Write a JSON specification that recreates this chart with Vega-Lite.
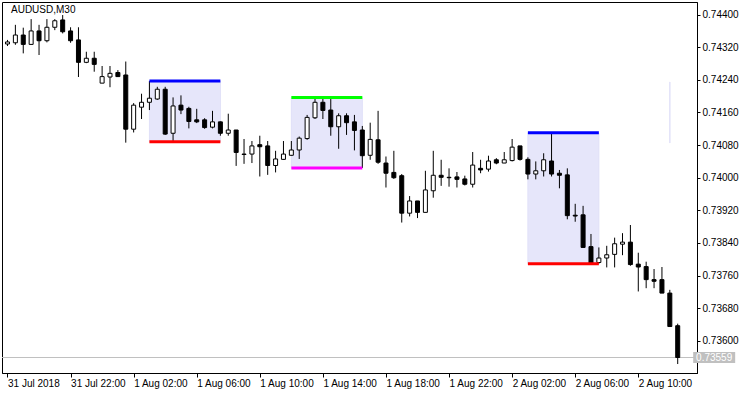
{
  "$schema": "https://vega.github.io/schema/vega-lite/v6.json",
  "width": 695,
  "height": 371,
  "autosize": {"type": "none"},
  "padding": {"left": 2, "top": 2, "right": 53, "bottom": 21},
  "background": "white",
  "config": {
    "view": {"stroke": "black", "strokeWidth": 1},
    "axis": {"grid": false, "domainColor": "black", "tickColor": "black", "labelColor": "black", "labelFont": "Liberation Sans", "labelFontSize": 10, "title": null, "labelOverlap": false, "labelSeparation": 0}
  },
  "datasets": {
    "candles": [
      {"t": "2018-07-31T18:00:00Z", "o": 0.74328, "h": 0.74338, "l": 0.74323, "c": 0.74333},
      {"t": "2018-07-31T18:30:00Z", "o": 0.74331, "h": 0.74375, "l": 0.74326, "c": 0.74350},
      {"t": "2018-07-31T19:00:00Z", "o": 0.74350, "h": 0.74368, "l": 0.74305, "c": 0.74327},
      {"t": "2018-07-31T19:30:00Z", "o": 0.74327, "h": 0.74389, "l": 0.74326, "c": 0.74360},
      {"t": "2018-07-31T20:00:00Z", "o": 0.74360, "h": 0.74375, "l": 0.74301, "c": 0.74336},
      {"t": "2018-07-31T20:30:00Z", "o": 0.74336, "h": 0.74389, "l": 0.74332, "c": 0.74369},
      {"t": "2018-07-31T21:00:00Z", "o": 0.74369, "h": 0.74389, "l": 0.74362, "c": 0.74385},
      {"t": "2018-07-31T21:30:00Z", "o": 0.74387, "h": 0.74399, "l": 0.74354, "c": 0.74358},
      {"t": "2018-07-31T22:00:00Z", "o": 0.74360, "h": 0.74369, "l": 0.74331, "c": 0.74336},
      {"t": "2018-07-31T22:30:00Z", "o": 0.74338, "h": 0.74369, "l": 0.74247, "c": 0.74283},
      {"t": "2018-07-31T23:00:00Z", "o": 0.74283, "h": 0.74309, "l": 0.74281, "c": 0.74293},
      {"t": "2018-07-31T23:30:00Z", "o": 0.74293, "h": 0.74309, "l": 0.74260, "c": 0.74278},
      {"t": "2018-08-01T00:00:00Z", "o": 0.74232, "h": 0.74274, "l": 0.74232, "c": 0.74248},
      {"t": "2018-08-01T00:30:00Z", "o": 0.74247, "h": 0.74274, "l": 0.74222, "c": 0.74256},
      {"t": "2018-08-01T01:00:00Z", "o": 0.74258, "h": 0.74264, "l": 0.74247, "c": 0.74248},
      {"t": "2018-08-01T01:30:00Z", "o": 0.74252, "h": 0.74285, "l": 0.74086, "c": 0.74119},
      {"t": "2018-08-01T02:00:00Z", "o": 0.74119, "h": 0.74183, "l": 0.74111, "c": 0.74178},
      {"t": "2018-08-01T02:30:00Z", "o": 0.74173, "h": 0.74206, "l": 0.74144, "c": 0.74185},
      {"t": "2018-08-01T03:00:00Z", "o": 0.74185, "h": 0.74237, "l": 0.74166, "c": 0.74195},
      {"t": "2018-08-01T03:30:00Z", "o": 0.74193, "h": 0.74223, "l": 0.74191, "c": 0.74217},
      {"t": "2018-08-01T04:00:00Z", "o": 0.74217, "h": 0.74223, "l": 0.74105, "c": 0.74107},
      {"t": "2018-08-01T04:30:00Z", "o": 0.74109, "h": 0.74197, "l": 0.74088, "c": 0.74176},
      {"t": "2018-08-01T05:00:00Z", "o": 0.74178, "h": 0.74202, "l": 0.74156, "c": 0.74166},
      {"t": "2018-08-01T05:30:00Z", "o": 0.74170, "h": 0.74174, "l": 0.74121, "c": 0.74138},
      {"t": "2018-08-01T06:00:00Z", "o": 0.74142, "h": 0.74169, "l": 0.74134, "c": 0.74137},
      {"t": "2018-08-01T06:30:00Z", "o": 0.74142, "h": 0.74146, "l": 0.74120, "c": 0.74123},
      {"t": "2018-08-01T07:00:00Z", "o": 0.74124, "h": 0.74164, "l": 0.74121, "c": 0.74137},
      {"t": "2018-08-01T07:30:00Z", "o": 0.74137, "h": 0.74138, "l": 0.74103, "c": 0.74109},
      {"t": "2018-08-01T08:00:00Z", "o": 0.74109, "h": 0.74157, "l": 0.74103, "c": 0.74117},
      {"t": "2018-08-01T08:30:00Z", "o": 0.74117, "h": 0.74117, "l": 0.74029, "c": 0.74062},
      {"t": "2018-08-01T09:00:00Z", "o": 0.74058, "h": 0.74095, "l": 0.74034, "c": 0.74057},
      {"t": "2018-08-01T09:30:00Z", "o": 0.74058, "h": 0.74090, "l": 0.74036, "c": 0.74078},
      {"t": "2018-08-01T10:00:00Z", "o": 0.74081, "h": 0.74103, "l": 0.74003, "c": 0.74076},
      {"t": "2018-08-01T10:30:00Z", "o": 0.74078, "h": 0.74090, "l": 0.74007, "c": 0.74030},
      {"t": "2018-08-01T11:00:00Z", "o": 0.74030, "h": 0.74066, "l": 0.74013, "c": 0.74046},
      {"t": "2018-08-01T11:30:00Z", "o": 0.74045, "h": 0.74090, "l": 0.74044, "c": 0.74058},
      {"t": "2018-08-01T12:00:00Z", "o": 0.74055, "h": 0.74090, "l": 0.74054, "c": 0.74068},
      {"t": "2018-08-01T12:30:00Z", "o": 0.74068, "h": 0.74101, "l": 0.74046, "c": 0.74097},
      {"t": "2018-08-01T13:00:00Z", "o": 0.74096, "h": 0.74154, "l": 0.74093, "c": 0.74148},
      {"t": "2018-08-01T13:30:00Z", "o": 0.74147, "h": 0.74197, "l": 0.74144, "c": 0.74185},
      {"t": "2018-08-01T14:00:00Z", "o": 0.74185, "h": 0.74193, "l": 0.74144, "c": 0.74165},
      {"t": "2018-08-01T14:30:00Z", "o": 0.74166, "h": 0.74193, "l": 0.74103, "c": 0.74125},
      {"t": "2018-08-01T15:00:00Z", "o": 0.74125, "h": 0.74158, "l": 0.74071, "c": 0.74152},
      {"t": "2018-08-01T15:30:00Z", "o": 0.74152, "h": 0.74158, "l": 0.74105, "c": 0.74135},
      {"t": "2018-08-01T16:00:00Z", "o": 0.74137, "h": 0.74154, "l": 0.74067, "c": 0.74116},
      {"t": "2018-08-01T16:30:00Z", "o": 0.74117, "h": 0.74127, "l": 0.74024, "c": 0.74054},
      {"t": "2018-08-01T17:00:00Z", "o": 0.74055, "h": 0.74135, "l": 0.74044, "c": 0.74094},
      {"t": "2018-08-01T17:30:00Z", "o": 0.74093, "h": 0.74164, "l": 0.74034, "c": 0.74038},
      {"t": "2018-08-01T18:00:00Z", "o": 0.74036, "h": 0.74052, "l": 0.73976, "c": 0.74011},
      {"t": "2018-08-01T18:30:00Z", "o": 0.74013, "h": 0.74066, "l": 0.73997, "c": 0.74000},
      {"t": "2018-08-01T19:00:00Z", "o": 0.74005, "h": 0.74009, "l": 0.73890, "c": 0.73913},
      {"t": "2018-08-01T19:30:00Z", "o": 0.73913, "h": 0.73955, "l": 0.73905, "c": 0.73943},
      {"t": "2018-08-01T20:00:00Z", "o": 0.73943, "h": 0.73943, "l": 0.73901, "c": 0.73915},
      {"t": "2018-08-01T20:30:00Z", "o": 0.73915, "h": 0.74017, "l": 0.73915, "c": 0.73970},
      {"t": "2018-08-01T21:00:00Z", "o": 0.73968, "h": 0.74066, "l": 0.73951, "c": 0.74006},
      {"t": "2018-08-01T21:30:00Z", "o": 0.74006, "h": 0.74044, "l": 0.73980, "c": 0.74001},
      {"t": "2018-08-01T22:00:00Z", "o": 0.74001, "h": 0.74023, "l": 0.73978, "c": 0.74000},
      {"t": "2018-08-01T22:30:00Z", "o": 0.74002, "h": 0.74014, "l": 0.73976, "c": 0.73996},
      {"t": "2018-08-01T23:00:00Z", "o": 0.73997, "h": 0.74005, "l": 0.73981, "c": 0.73984},
      {"t": "2018-08-01T23:30:00Z", "o": 0.73984, "h": 0.74063, "l": 0.73976, "c": 0.74031},
      {"t": "2018-08-02T00:00:00Z", "o": 0.74023, "h": 0.74044, "l": 0.74011, "c": 0.74019},
      {"t": "2018-08-02T00:30:00Z", "o": 0.74021, "h": 0.74054, "l": 0.74015, "c": 0.74041},
      {"t": "2018-08-02T01:00:00Z", "o": 0.74044, "h": 0.74048, "l": 0.74033, "c": 0.74036},
      {"t": "2018-08-02T01:30:00Z", "o": 0.74036, "h": 0.74063, "l": 0.74036, "c": 0.74044},
      {"t": "2018-08-02T02:00:00Z", "o": 0.74042, "h": 0.74095, "l": 0.74040, "c": 0.74075},
      {"t": "2018-08-02T02:30:00Z", "o": 0.74078, "h": 0.74078, "l": 0.74042, "c": 0.74045},
      {"t": "2018-08-02T03:00:00Z", "o": 0.74045, "h": 0.74050, "l": 0.73996, "c": 0.74009},
      {"t": "2018-08-02T03:30:00Z", "o": 0.74009, "h": 0.74040, "l": 0.73996, "c": 0.74017},
      {"t": "2018-08-02T04:00:00Z", "o": 0.74017, "h": 0.74060, "l": 0.74003, "c": 0.74044},
      {"t": "2018-08-02T04:30:00Z", "o": 0.74041, "h": 0.74110, "l": 0.74003, "c": 0.74009},
      {"t": "2018-08-02T05:00:00Z", "o": 0.74011, "h": 0.74019, "l": 0.73974, "c": 0.74006},
      {"t": "2018-08-02T05:30:00Z", "o": 0.74007, "h": 0.74023, "l": 0.73898, "c": 0.73907},
      {"t": "2018-08-02T06:00:00Z", "o": 0.73908, "h": 0.73936, "l": 0.73892, "c": 0.73906},
      {"t": "2018-08-02T06:30:00Z", "o": 0.73909, "h": 0.73931, "l": 0.73829, "c": 0.73829},
      {"t": "2018-08-02T07:00:00Z", "o": 0.73831, "h": 0.73862, "l": 0.73789, "c": 0.73790},
      {"t": "2018-08-02T07:30:00Z", "o": 0.73792, "h": 0.73829, "l": 0.73789, "c": 0.73803},
      {"t": "2018-08-02T08:00:00Z", "o": 0.73803, "h": 0.73833, "l": 0.73780, "c": 0.73811},
      {"t": "2018-08-02T08:30:00Z", "o": 0.73812, "h": 0.73853, "l": 0.73780, "c": 0.73838},
      {"t": "2018-08-02T09:00:00Z", "o": 0.73837, "h": 0.73864, "l": 0.73810, "c": 0.73842},
      {"t": "2018-08-02T09:30:00Z", "o": 0.73842, "h": 0.73884, "l": 0.73784, "c": 0.73787},
      {"t": "2018-08-02T10:00:00Z", "o": 0.73788, "h": 0.73816, "l": 0.73721, "c": 0.73781},
      {"t": "2018-08-02T10:30:00Z", "o": 0.73782, "h": 0.73794, "l": 0.73729, "c": 0.73750},
      {"t": "2018-08-02T11:00:00Z", "o": 0.73750, "h": 0.73776, "l": 0.73729, "c": 0.73746},
      {"t": "2018-08-02T11:30:00Z", "o": 0.73750, "h": 0.73781, "l": 0.73717, "c": 0.73717},
      {"t": "2018-08-02T12:00:00Z", "o": 0.73717, "h": 0.73725, "l": 0.73634, "c": 0.73635},
      {"t": "2018-08-02T12:30:00Z", "o": 0.73637, "h": 0.73642, "l": 0.73543, "c": 0.73559}
    ],
    "boxes": [
      {"box": "A", "t1": "2018-08-01T03:00:00Z", "t2": "2018-08-01T07:30:00Z", "hi": 0.74237, "lo": 0.74088},
      {"box": "B", "t1": "2018-08-01T12:00:00Z", "t2": "2018-08-01T16:30:00Z", "hi": 0.74197, "lo": 0.74024},
      {"box": "C", "t1": "2018-08-02T03:00:00Z", "t2": "2018-08-02T07:30:00Z", "hi": 0.74110, "lo": 0.73789},
      {"box": "D", "t1": "2018-08-02T12:00:00Z", "t2": "2018-08-02T12:00:00Z", "hi": 0.74235, "lo": 0.74085}
    ],
    "last": [
      {"price": 0.73559, "label": "0.73559"}
    ],
    "info": [
      {"name": "AUDUSD,M30"}
    ]
  },
  "layer": [
    {
      "data": {"name": "boxes"},
      "mark": {"type": "rect", "fill": "#E6E6FA", "stroke": "#E0E0F8", "strokeWidth": 1},
      "encoding": {
        "x": {"field": "t1", "type": "temporal",
          "scale": {"type": "utc", "domain": [
            {"year": 2018, "month": 7, "date": 31, "hours": 17, "minutes": 58, "seconds": 7, "milliseconds": 500, "utc": true},
            {"year": 2018, "month": 8, "date": 2, "hours": 13, "minutes": 24, "seconds": 22, "milliseconds": 500, "utc": true}
          ]},
          "axis": {
            "orient": "bottom",
            "tickCount": 40,
            "values": [
              {"year": 2018, "month": 7, "date": 31, "hours": 18, "utc": true},
              {"year": 2018, "month": 7, "date": 31, "hours": 22, "utc": true},
              {"year": 2018, "month": 8, "date": 1, "hours": 2, "utc": true},
              {"year": 2018, "month": 8, "date": 1, "hours": 6, "utc": true},
              {"year": 2018, "month": 8, "date": 1, "hours": 10, "utc": true},
              {"year": 2018, "month": 8, "date": 1, "hours": 14, "utc": true},
              {"year": 2018, "month": 8, "date": 1, "hours": 18, "utc": true},
              {"year": 2018, "month": 8, "date": 1, "hours": 22, "utc": true},
              {"year": 2018, "month": 8, "date": 2, "hours": 2, "utc": true},
              {"year": 2018, "month": 8, "date": 2, "hours": 6, "utc": true},
              {"year": 2018, "month": 8, "date": 2, "hours": 10, "utc": true}
            ],
            "labelExpr": "(utcdate(datum.value) == 31 && utchours(datum.value) == 18) ? '31 Jul 2018' : utcFormat(datum.value, '%-d %b %H:%M')",
            "labelAlign": "left", "labelFlush": false, "labelOverlap": false, "labelBound": false,
            "tickSize": 4, "labelPadding": 1, "labelBaseline": "top"
          }
        },
        "x2": {"field": "t2"},
        "y": {"field": "hi", "type": "quantitative",
          "scale": {"domain": [0.73521, 0.74431], "nice": false, "zero": false},
          "axis": {
            "orient": "right",
            "tickCount": 40,
            "values": [0.736, 0.7368, 0.7376, 0.7384, 0.7392, 0.74, 0.7408, 0.7416, 0.7424, 0.7432, 0.744],
            "format": ".5f", "tickSize": 3, "labelPadding": 2, "labelFlush": false, "labelOverlap": false, "labelBound": false, "labelSeparation": 0
          }
        },
        "y2": {"field": "lo"}
      }
    },
    {
      "data": {"name": "last"},
      "mark": {"type": "rule", "color": "#c0c0c0", "strokeWidth": 1},
      "encoding": {"y": {"field": "price", "type": "quantitative"}}
    },
    {
      "data": {"name": "candles"},
      "mark": {"type": "rule", "color": "black", "strokeWidth": 1},
      "encoding": {
        "x": {"field": "t", "type": "temporal"},
        "y": {"field": "l", "type": "quantitative"},
        "y2": {"field": "h"}
      }
    },
    {
      "data": {"name": "candles"},
      "mark": {"type": "bar", "width": 4, "stroke": "black", "strokeWidth": 1},
      "encoding": {
        "x": {"field": "t", "type": "temporal"},
        "y": {"field": "o", "type": "quantitative"},
        "y2": {"field": "c"},
        "fill": {"condition": {"test": "datum.c > datum.o", "value": "white"}, "value": "black"}
      }
    },
    {
      "data": {"name": "boxes"},
      "transform": [{"filter": "datum.box != 'D'"}],
      "mark": {"type": "rule", "strokeWidth": 3, "strokeCap": "butt"},
      "encoding": {
        "x": {"field": "t1", "type": "temporal"},
        "x2": {"field": "t2"},
        "y": {"field": "hi", "type": "quantitative"},
        "color": {"condition": {"test": "datum.box == 'B'", "value": "#00ff00"}, "value": "#0000ff"}
      }
    },
    {
      "data": {"name": "boxes"},
      "transform": [{"filter": "datum.box != 'D'"}],
      "mark": {"type": "rule", "strokeWidth": 3, "strokeCap": "butt"},
      "encoding": {
        "x": {"field": "t1", "type": "temporal"},
        "x2": {"field": "t2"},
        "y": {"field": "lo", "type": "quantitative"},
        "color": {"condition": {"test": "datum.box == 'B'", "value": "#ff00ff"}, "value": "#ff0000"}
      }
    },
    {
      "data": {"name": "last"},
      "mark": {"type": "point", "shape": "M-1,-0.26H1V0.26H-1Z", "size": 1764, "filled": true, "fill": "#c0c0c0", "opacity": 1, "strokeWidth": 0},
      "encoding": {
        "x": {"datum": {"year": 2018, "month": 8, "date": 2, "hours": 14, "minutes": 48, "seconds": 45, "utc": true}, "type": "temporal"},
        "y": {"field": "price", "type": "quantitative"}
      }
    },
    {
      "data": {"name": "last"},
      "mark": {"type": "text", "color": "white", "font": "Liberation Sans", "fontSize": 10, "align": "center", "baseline": "middle"},
      "encoding": {
        "x": {"datum": {"year": 2018, "month": 8, "date": 2, "hours": 14, "minutes": 48, "seconds": 45, "utc": true}, "type": "temporal"},
        "y": {"field": "price", "type": "quantitative"},
        "text": {"field": "label"}
      }
    },
    {
      "data": {"name": "info"},
      "mark": {"type": "text", "color": "black", "font": "Liberation Sans", "fontSize": 10, "align": "left", "baseline": "top", "dx": 4, "dy": 3},
      "encoding": {
        "x": {"datum": {"year": 2018, "month": 7, "date": 31, "hours": 17, "minutes": 58, "seconds": 7, "milliseconds": 500, "utc": true}, "type": "temporal"},
        "y": {"datum": 0.74431, "type": "quantitative"},
        "text": {"field": "name"}
      }
    }
  ]
}
